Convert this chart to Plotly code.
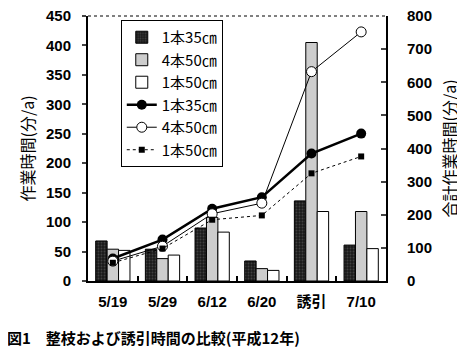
import plotly.graph_objects as go

categories = ["5/19", "5/29", "6/12", "6/20", "誘引", "7/10"]

# bars (left axis, 分/a)
bar_1_35 = [68, 54, 90, 34, 136, 61]
bar_4_50 = [54, 38, 108, 21, 405, 118]
bar_1_50 = [52, 44, 83, 18, 118, 55]

# lines (right axis, 合計 分/a)
tot_1_35 = [68, 125, 218, 253, 385, 445]
tot_4_50 = [60, 105, 203, 235, 632, 752]
tot_1_50 = [55, 98, 185, 198, 325, 376]

names = ["1本35㎝", "4本50㎝", "1本50㎝"]

FONT = "Liberation Sans, Arial, Noto Sans CJK JP, sans-serif"
JFONT = "Noto Sans CJK JP, sans-serif"
TICKFONT = dict(family="Liberation Sans, Arial, sans-serif", size=15, weight="bold")

fig = go.Figure()
fig.add_trace(go.Bar(x=categories, y=bar_1_35, name=names[0],
                     marker=dict(color="#1a1a1a", line=dict(color="black", width=1),
                                 pattern=dict(shape=".", fgcolor="#666666", bgcolor="#1a1a1a", size=3, solidity=0.3))))
fig.add_trace(go.Bar(x=categories, y=bar_4_50, name=names[1],
                     marker=dict(color="white", line=dict(color="black", width=1),
                                 pattern=dict(shape=".", fgcolor="#808080", bgcolor="#e0e0e0", size=2, solidity=0.45))))
fig.add_trace(go.Bar(x=categories, y=bar_1_50, name=names[2],
                     marker=dict(color="white", line=dict(color="black", width=1))))

fig.add_trace(go.Scatter(x=categories, y=tot_1_35, name=names[0], yaxis="y2", mode="lines+markers",
                         line=dict(color="black", width=2.5),
                         marker=dict(symbol="circle", size=10, color="black")))
fig.add_trace(go.Scatter(x=categories, y=tot_4_50, name=names[1], yaxis="y2", mode="lines+markers",
                         line=dict(color="black", width=1),
                         marker=dict(symbol="circle", size=10, color="white", line=dict(color="black", width=1))))
fig.add_trace(go.Scatter(x=categories, y=tot_1_50, name=names[2], yaxis="y2", mode="lines+markers",
                         line=dict(color="black", width=1, dash="dot"),
                         marker=dict(symbol="square", size=6, color="black")))

# page body adds an 8px offset; compensate so the plot area sits at x 88-386, y ~16-281
fig.update_layout(
    width=457, height=347,
    margin=dict(l=80, r=79, t=8, b=74, autoexpand=False),
    paper_bgcolor="white", plot_bgcolor="white",
    barmode="group", bargap=0.31, bargroupgap=0,
    font=dict(family=FONT, size=15, color="black"),
    showlegend=True,
    legend=dict(x=0.11, y=0.985, xanchor="left", yanchor="top",
                bordercolor="black", borderwidth=1, bgcolor="white",
                font=dict(family=JFONT, size=15), tracegroupgap=0,
                itemwidth=30),
    xaxis=dict(type="category", showline=True, linecolor="black", linewidth=2,
               ticks="inside", tickson="boundaries", ticklen=5, tickwidth=2, tickcolor="black",
               showgrid=False, ticklabelstandoff=6, automargin=False,
               tickfont=dict(family="Liberation Sans, Noto Sans CJK JP, sans-serif", size=15, weight="bold")),
    yaxis=dict(range=[0, 450], dtick=50, showline=True, linecolor="black", linewidth=2,
               ticks="outside", ticklen=4, tickwidth=2, showgrid=False, zeroline=False,
               ticklabelstandoff=8, tickfont=TICKFONT, automargin=False,
               ticklabeloverflow="allow"),
    yaxis2=dict(range=[0, 800], dtick=100, overlaying="y", side="right", showline=True,
                linecolor="black", linewidth=2, ticks="inside", ticklen=5, tickwidth=2,
                showgrid=False, zeroline=False, ticklabelstandoff=16, tickfont=TICKFONT,
                automargin=False, ticklabeloverflow="allow"),
    shapes=[dict(type="line", xref="paper", yref="paper", x0=0, x1=1, y0=1, y1=1,
                 line=dict(color="black", width=1, dash="dot"))],
    annotations=[
        dict(text="作業時間(分/a)", xref="paper", yref="paper", x=-0.208, y=0.5,
             xanchor="center", yanchor="middle", textangle=-90, showarrow=False,
             font=dict(family=JFONT, size=16)),
        dict(text="合計作業時間(分/a)", xref="paper", yref="paper", x=1.211, y=0.5,
             xanchor="center", yanchor="middle", textangle=-90, showarrow=False,
             font=dict(family=JFONT, size=16)),
        dict(text="<b>図1　整枝および誘引時間の比較(平成12年)</b>", xref="paper", yref="paper",
             x=-0.2785, y=-0.215, xanchor="left", yanchor="middle", showarrow=False,
             font=dict(family=JFONT, size=15)),
    ],
)

fig.write_html("out.html")
